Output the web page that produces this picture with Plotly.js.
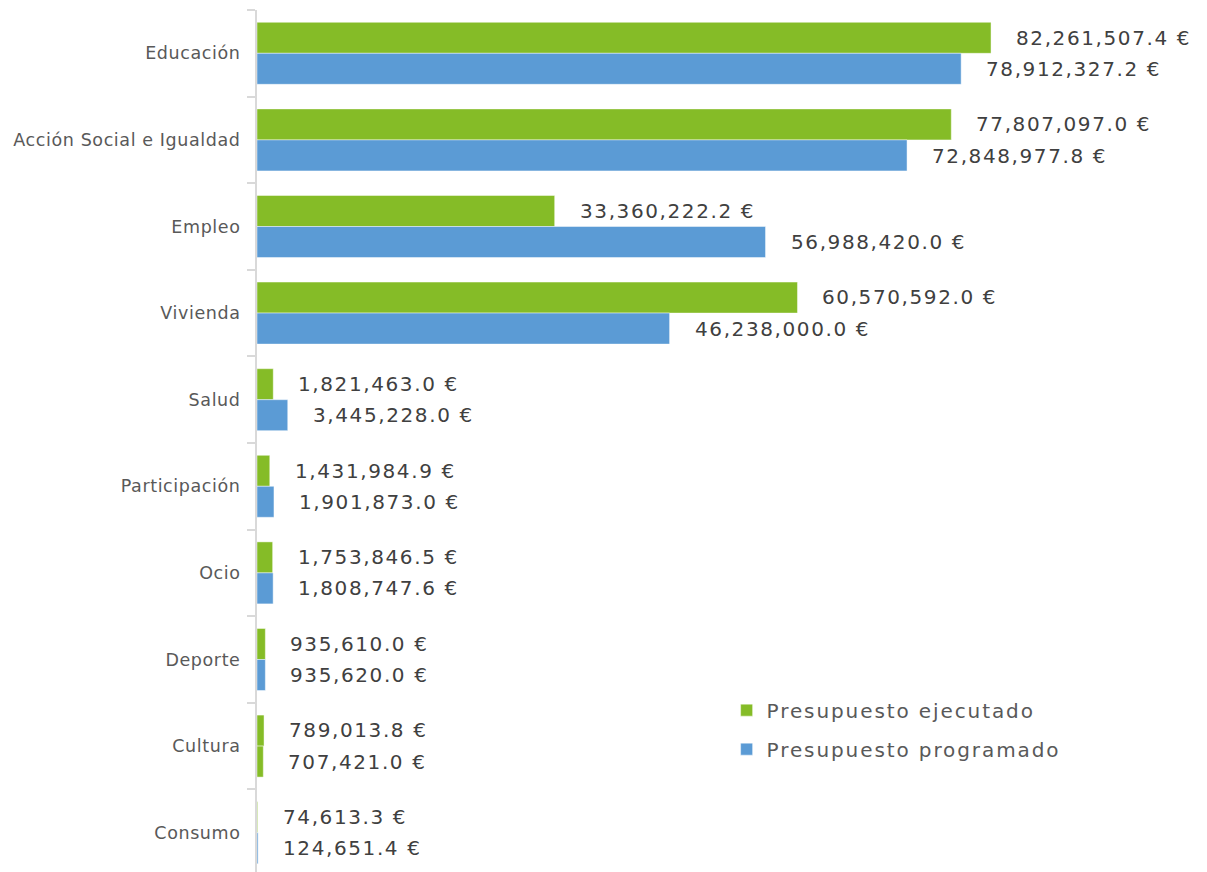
<!DOCTYPE html>
<html>
<head>
<meta charset="utf-8">
<script src="https://cdn.plot.ly/plotly-3.0.1.min.js"></script>
<style>
html,body{margin:0;padding:0;background:#fff;}
#chart{width:1207px;height:872px;}
.annotation-text{letter-spacing:1.6px;}
.ytick text{letter-spacing:0.6px;}
.legendtext{letter-spacing:1.9px;}
</style>
</head>
<body>
<div id="chart"></div>
<script>
const categories = ["Educación","Acción Social e Igualdad","Empleo","Vivienda","Salud","Participación","Ocio","Deporte","Cultura","Consumo"];
const ejecutado = [82261507.4, 77807097.0, 33360222.2, 60570592.0, 1821463.0, 1431984.9, 1753846.5, 935610.0, 789013.8, 74613.3];
const programado = [78912327.2, 72848977.8, 56988420.0, 46238000.0, 3445228.0, 1901873.0, 1808747.6, 935620.0, 707421.0, 124651.4];
const seriesNames = ["Presupuesto ejecutado", "Presupuesto programado"];

const GREEN = "#85BC27";
const BLUE = "#5B9BD5";
// In the original, the "Cultura" programmed bar is drawn in green
const progColors = categories.map(c => c === "Cultura" ? GREEN : BLUE);

const fmt = v => v.toLocaleString("en-US", {minimumFractionDigits: 1, maximumFractionDigits: 1}) + " €";
const FONT = "DejaVu Sans, Verdana, sans-serif";

const traces = [
  {type: "bar", orientation: "h", name: seriesNames[0], y: categories, x: ejecutado,
   marker: {color: GREEN, line: {color: "rgba(255,255,255,0.45)", width: 1}},
   legendgroup: "a", hoverinfo: "x+y"},
  {type: "bar", orientation: "h", name: seriesNames[1], y: categories, x: programado,
   marker: {color: progColors, line: {color: "rgba(255,255,255,0.45)", width: 1}},
   legendgroup: "b", hoverinfo: "x+y"}
];

const annotations = [];
categories.forEach((c, i) => {
  annotations.push({x: ejecutado[i], y: c, xref: "x", yref: "y", text: fmt(ejecutado[i]),
    showarrow: false, xanchor: "left", yanchor: "middle", xshift: 23, yshift: 15.6,
    font: {family: FONT, size: 20, color: "#404040"}});
  annotations.push({x: programado[i], y: c, xref: "x", yref: "y", text: fmt(programado[i]),
    showarrow: false, xanchor: "left", yanchor: "middle", xshift: 23, yshift: -15.6,
    font: {family: FONT, size: 20, color: "#404040"}});
});

const layout = {
  width: 1207, height: 872,
  margin: {l: 257, r: 7, t: 10, b: 0},
  paper_bgcolor: "#fff", plot_bgcolor: "#fff",
  barmode: "group", bargap: 0.284, bargroupgap: 0,
  font: {family: FONT, color: "#595959"},
  xaxis: {range: [0, 105680000], visible: false, showgrid: false, zeroline: false},
  yaxis: {type: "category", range: [9.454, -0.5], showline: true, linecolor: "#D9D9D9", linewidth: 2,
    ticks: "outside", tickson: "boundaries", ticklen: 8, tickcolor: "#D9D9D9", tickwidth: 2,
    showgrid: false, zeroline: false, ticklabelstandoff: 11,
    tickfont: {family: FONT, size: 17.5, color: "#595959"}},
  showlegend: true,
  legend: {x: 0.498, y: 0.2104, xanchor: "left", yanchor: "top", traceorder: "grouped", tracegroupgap: 10,
    font: {family: FONT, size: 20, color: "#595959"}, bgcolor: "rgba(0,0,0,0)"},
  annotations: annotations
};

Plotly.newPlot("chart", traces, layout, {displayModeBar: false, staticPlot: true});
</script>
</body>
</html>
